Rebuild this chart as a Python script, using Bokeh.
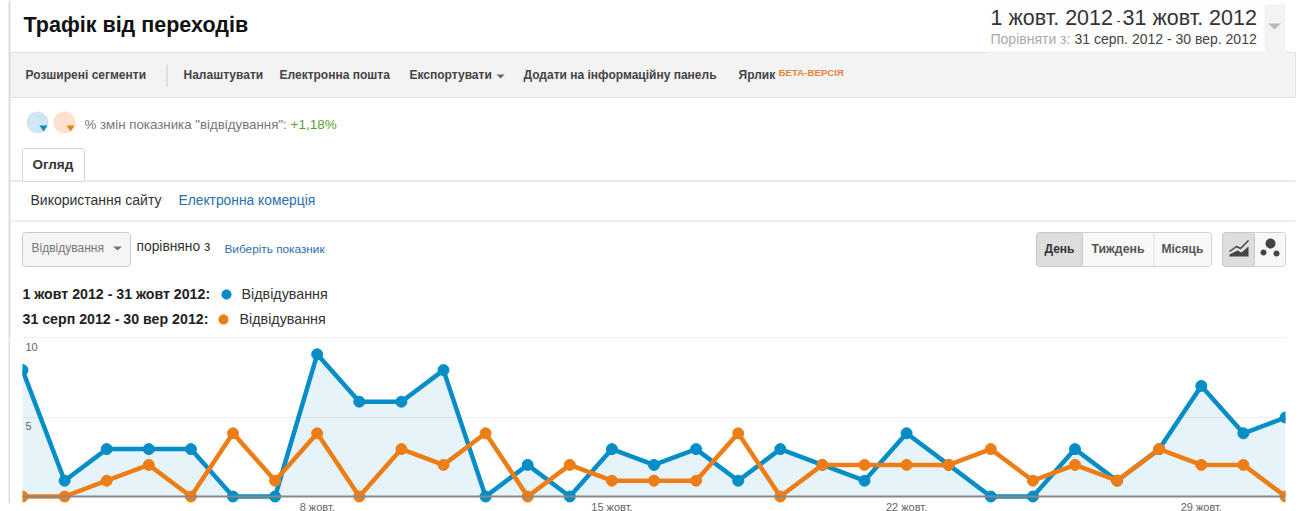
import math
from bokeh.plotting import figure
from bokeh.embed import file_html
from bokeh.resources import INLINE
from bokeh.core.properties import value
from bokeh.layouts import column, row
from bokeh.models import FixedTicker, Span

days = list(range(1, 32))
visits_oct = [8, 1, 3, 3, 3, 0, 0, 9, 6, 6, 8, 0, 2, 0, 3, 2, 3, 1, 3, 2, 1, 4, 2, 0, 0, 3, 1, 3, 7, 4, 5]
visits_sep = [0, 0, 1, 2, 0, 4, 1, 4, 0, 3, 2, 4, 0, 2, 1, 1, 1, 4, 0, 2, 2, 2, 2, 3, 1, 2, 1, 3, 2, 2, 0]
x_ticks = [8, 15, 22, 29]
x_labels = ["8 жовт.", "15 жовт.", "22 жовт.", "29 жовт."]
y_ticks = [5, 10]

BLUE = "#058DC7"
ORANGE = "#ED7E17"
LINK = "#2B6FAE"
FONT = "Liberation Sans"

# page geometry of the plotting frame
FL, FR, FT, FB = 22, 1285, 338, 507
PX_PER_UNIT = 15.8
STRIP_W = 10


def bare(width, height, x_range, y_range):
    f = figure(width=width, height=height, output_backend="svg", toolbar_location=None,
               x_range=x_range, y_range=y_range, min_border=0)
    f.axis.visible = False
    f.grid.visible = False
    f.outline_line_color = None
    return f


# ---------- the chart ----------
p = figure(width=1300 - STRIP_W, height=511 - FT, output_backend="svg", toolbar_location=None,
           x_range=(1, 31), y_range=(-(FB - 496) / PX_PER_UNIT, 10),
           min_border_left=FL - STRIP_W, min_border_right=1300 - FR,
           min_border_top=0, min_border_bottom=511 - FB,
           frame_height=FB - FT)
p.outline_line_color = None
p.background_fill_color = "white"
p.border_fill_color = "white"
p.xgrid.visible = False
p.yaxis.visible = False
p.ygrid.ticker = FixedTicker(ticks=y_ticks)
p.ygrid.grid_line_color = "#EEEEEE"
p.ygrid.grid_line_width = 1

p.xaxis.ticker = FixedTicker(ticks=x_ticks)
p.xaxis.major_label_overrides = dict(zip(x_ticks, x_labels))
p.xaxis.axis_line_color = None
p.xaxis.major_tick_line_color = None
p.xaxis.minor_tick_line_color = None
p.xaxis.major_tick_out = 0
p.xaxis.major_tick_in = 0
p.xaxis.major_label_standoff = -7
p.xaxis.major_label_text_font = FONT
p.xaxis.major_label_text_font_size = "11px"
p.xaxis.major_label_text_color = "#666666"

p.varea(x=days, y1=[0] * len(days), y2=visits_oct, fill_color=BLUE, fill_alpha=0.1)
p.add_layout(Span(location=0, dimension="width", line_color="#888888", line_width=2, level="glyph"))
p.line(days, visits_oct, line_color=BLUE, line_width=4.5)
p.scatter(days, visits_oct, size=11, fill_color=BLUE, line_color=BLUE)
p.line(days, visits_sep, line_color=ORANGE, line_width=4.5)
p.scatter(days, visits_sep, size=11, fill_color=ORANGE, line_color=ORANGE)
p.text(x=[1] * len(y_ticks), y=y_ticks, text=[str(v) for v in y_ticks], x_offset=3, y_offset=4,
       text_font=value(FONT), text_font_size="11px", text_color="#666666", text_baseline="top")

# ---------- the page left of the chart ----------
strip = bare(STRIP_W, 511 - FT, (0, STRIP_W), (511, FT))
strip.quad(left=[8], right=[10], top=[FT], bottom=[511], fill_color="#DDDDDD", line_color=None)

# ---------- the page above the chart ----------
top = bare(1300, FT, (0, 1300), (FT, 0))


def box(x0, y0, x1, y1, fill="white", line=None, radius=0):
    if radius:
        pts = []
        for cx, cy, a0 in [(x1 - radius, y0 + radius, -90), (x1 - radius, y1 - radius, 0),
                           (x0 + radius, y1 - radius, 90), (x0 + radius, y0 + radius, 180)]:
            for k in range(7):
                a = math.radians(a0 + k * 15)
                pts.append((cx + radius * math.cos(a), cy + radius * math.sin(a)))
        top.patch([a for a, _ in pts], [b for _, b in pts], fill_color=fill, line_color=line, line_width=1)
    else:
        top.quad(left=[x0], right=[x1], top=[y0], bottom=[y1], fill_color=fill, line_color=line, line_width=1)


def poly(pts, fill):
    top.patch([a for a, _ in pts], [b for _, b in pts], fill_color=fill, line_color=None)


def disc(cx, cy, r, fill):
    poly([(cx + r * math.cos(i * math.pi / 18), cy + r * math.sin(i * math.pi / 18)) for i in range(36)], fill)


def caret(cx, cy, w, h, fill):
    poly([(cx - w / 2, cy - h / 2), (cx + w / 2, cy - h / 2), (cx, cy + h / 2)], fill)


def text(x, y, s, size=12, color="#333333", bold=False):
    top.text(x=[x], y=[y - 0.45 * size], text=[s], text_font=value(FONT), text_font_size=f"{size}px",
             text_color=color, text_font_style="bold" if bold else "normal",
             text_align="left", text_baseline="alphabetic")


# left edge and page bands
box(8, 0, 10, FT, fill="#DDDDDD")
box(10, 52, 1295, 97, fill="#F3F3F3", line="#E2E2E2")
box(10, 180, 1295, 181, fill="#D5D5D5")
box(10, 220, 1295, 221, fill="#DDDDDD")
box(22, 336.5, 1285, 338, fill="#F0F0F0")

# header
text(23, 34, "Трафік від переходів", 21.5, "#111111", True)
box(986, 4, 1285, 52, fill="#FEFEFE")
box(1264, 4, 1285, 52, fill="#F3F3F3")
caret(1274, 26, 13, 6, "#BBBBBB")
text(990, 27, "1 жовт. 2012", 21.5, "#333333")
text(1116, 25, "-", 12, "#333333")
text(1122, 27, "31 жовт. 2012", 21.5, "#333333")
text(990, 45, "Порівняти з:", 14, "#AAAAAA")
text(1074, 45, "31 серп. 2012 - 30 вер. 2012", 14, "#444444")

# toolbar
for tx, label in [(25, "Розширені сегменти"), (183, "Налаштувати"), (279, "Електронна пошта"),
                  (409, "Експортувати"), (523, "Додати на інформаційну панель"), (738, "Ярлик")]:
    text(tx, 80, label, 12, "#444444", True)
box(166, 64, 167, 86, fill="#CCCCCC")
caret(500, 76, 8, 4, "#666666")
text(778, 76, "БЕТА-ВЕРСІЯ", 9.7, "#E8833A", True)

# segment chips
disc(37, 122, 11, "#CFE7F4")
caret(43, 128, 8, 6, BLUE)
disc(64, 122, 11, "#FBE2CF")
caret(70, 128, 8, 6, ORANGE)
text(84, 130, "% змін показника \"відвідування\":", 13.3, "#777777")
text(290, 130, "+1,18%", 13.5, "#5AA02C")

# tabs
box(22, 148, 84, 181, fill="white", line="#D5D5D5", radius=2)
text(32, 170, "Огляд", 13.5, "#333333", True)
text(30, 206, "Використання сайту", 14, "#333333")
text(178, 206, "Електронна комерція", 13.8, LINK)

# metric selector
box(22, 232, 130, 266, fill="#F5F5F5", line="#CCCCCC", radius=3)
text(31, 253, "Відвідування", 12, "#777777")
caret(117, 248, 9, 4, "#777777")
text(136, 252, "порівняно з", 13.8, "#333333")
text(224, 254, "Виберіть показник", 11.8, LINK)

# period buttons
box(1036, 232, 1211, 266, fill="#F8F8F8", line="#D0D0D0", radius=3)
box(1036, 232, 1082, 266, fill="#DDDDDD", line="#C8C8C8", radius=3)
box(1153, 233, 1154, 265, fill="#DDDDDD")
text(1044, 254, "День", 12, "#333333", True)
text(1091, 254, "Тиждень", 12.3, "#555555", True)
text(1161, 254, "Місяць", 12, "#555555", True)

# chart type buttons
box(1222, 232, 1285, 266, fill="#F8F8F8", line="#D0D0D0", radius=3)
box(1222, 232, 1254, 266, fill="#DDDDDD", line="#C8C8C8", radius=3)
poly([(1229, 256), (1229, 254), (1237, 250), (1241, 252), (1248, 246), (1248, 256)], "#444444")
top.line([1229, 1236, 1240, 1248], [251, 246, 248, 240], line_color="#444444", line_width=1.5)
disc(1270, 243, 5, "#444444")
disc(1263, 252, 3, "#444444")
disc(1276, 253, 3, "#444444")

# legend
text(22, 300, "1 жовт 2012 - 31 жовт 2012:", 14.2, "#222222", True)
disc(226, 294, 5, BLUE)
text(241, 300, "Відвідування", 14.3, "#333333")
text(22, 325, "31 серп 2012 - 30 вер 2012:", 14.2, "#222222", True)
disc(223, 319, 5, ORANGE)
text(239, 325, "Відвідування", 14.3, "#333333")

page = column(top, row(strip, p, spacing=0), spacing=0)
open("out.html", "w").write(file_html(page, INLINE))
